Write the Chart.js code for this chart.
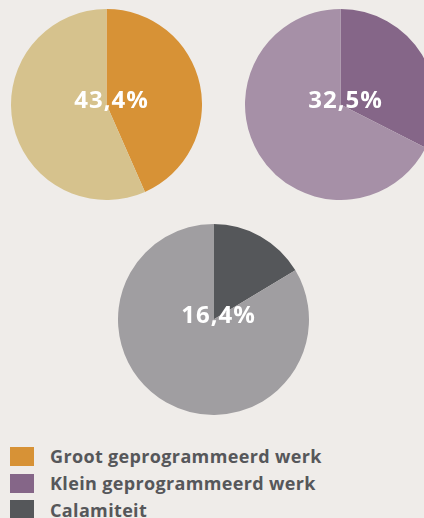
<!DOCTYPE html>
<html><head><meta charset="utf-8">
<script src="https://cdn.jsdelivr.net/npm/chart.js@4/dist/chart.umd.min.js"></script>
<style>
html,body{margin:0;padding:0;width:424px;height:518px;overflow:hidden;background:#EFECE9;}
.pie{position:absolute;width:191px;height:191px;}
#legend{position:absolute;left:10px;top:443px;font-family:"Open Sans",sans-serif;font-weight:bold;font-size:18px;letter-spacing:0.35px;color:#56575A;}
.row{height:26.8px;display:flex;align-items:center;}
.sw{width:24px;height:19px;margin-right:16px;flex:none;}
</style></head>
<body>
<div class="pie" style="left:11px;top:9px"><canvas id="c0"></canvas></div>
<div class="pie" style="left:244.5px;top:9px"><canvas id="c1"></canvas></div>
<div class="pie" style="left:117.5px;top:223.5px"><canvas id="c2"></canvas></div>
<div id="legend"></div>
<script>
const categories = ['Groot geprogrammeerd werk', 'Klein geprogrammeerd werk', 'Calamiteit'];
const shares = [43.4, 32.5, 16.4];
const shareLabels = ['43,4%', '32,5%', '16,4%'];
const mainColors = ['#D79236', '#856688', '#55575A'];
const restColors = ['#D6C28D', '#A690A7', '#A09EA1'];

const centerLabel = {
  id: 'centerLabel',
  afterDraw(chart) {
    const {ctx, chartArea} = chart;
    const txt = chart.options.plugins.centerLabel.text;
    ctx.save();
    ctx.font = 'bold 24px "Open Sans", sans-serif';
    ctx.letterSpacing = '1px';
    ctx.fillStyle = '#FFFFFF';
    ctx.textAlign = 'center';
    ctx.textBaseline = 'middle';
    const cx = (chartArea.left + chartArea.right) / 2 + 5;
    const cy = (chartArea.top + chartArea.bottom) / 2 - 3;
    ctx.fillText(txt, cx, cy);
    ctx.restore();
  }
};

shares.forEach((s, i) => {
  new Chart(document.getElementById('c' + i), {
    type: 'pie',
    data: {
      labels: [categories[i], 'Overig'],
      datasets: [{
        data: [s, 100 - s],
        backgroundColor: [mainColors[i], restColors[i]],
        borderWidth: 0
      }]
    },
    options: {
      responsive: true,
      maintainAspectRatio: false,
      animation: false,
      layout: {padding: 0},
      plugins: {
        legend: {display: false},
        tooltip: {enabled: false},
        centerLabel: {text: shareLabels[i]}
      }
    },
    plugins: [centerLabel]
  });
});

const leg = document.getElementById('legend');
categories.forEach((c, i) => {
  const row = document.createElement('div');
  row.className = 'row';
  const sw = document.createElement('div');
  sw.className = 'sw';
  sw.style.background = mainColors[i];
  const t = document.createElement('span');
  t.textContent = c;
  row.appendChild(sw);
  row.appendChild(t);
  leg.appendChild(row);
});
</script>
</body></html>
